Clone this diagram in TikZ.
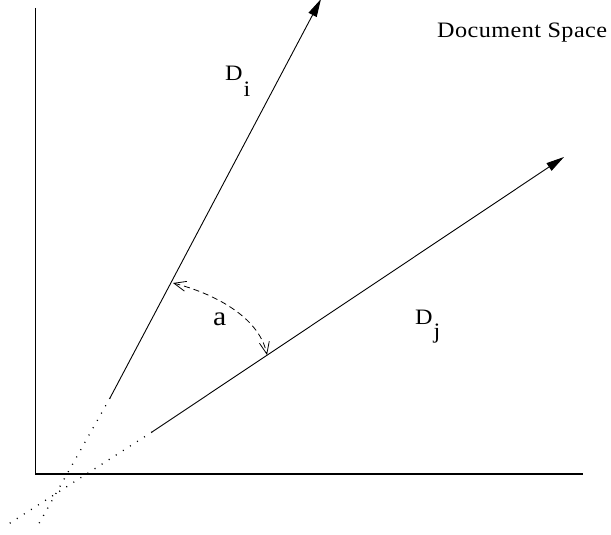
\documentclass[tikz,border=0pt]{standalone}
\usepackage{fontspec}
\setmainfont{Liberation Serif}
\newfontfamily\labfont[LetterSpace=2,FakeStretch=1.1]{Liberation Serif}
\usetikzlibrary{arrows.meta}
\tikzset{
  axis/.style={line width=1.3pt},
  vec/.style={line width=0.9pt},
  vecext/.style={line width=1.3pt, dash pattern=on 1pt off 7.4pt},
  vecarrow/.style={vec, -{Triangle[length=18pt,width=9pt]}},
  barbtip/.tip={Straight Barb[length=12pt,width=10pt,line width=0.8pt]},
  anglearc/.style={line width=0.8pt, dash pattern=on 6pt off 4pt, {barbtip}-{barbtip}},
  lab/.style={inner sep=0pt, anchor=base west, font=\labfont\fontsize{22pt}{25pt}\selectfont},
}
\begin{document}
\begin{tikzpicture}[x=1pt,y=-1pt]
\useasboundingbox (0,0) rectangle (611,535);
% axes
\coordinate (ytop) at (35.5,8);
\coordinate (orig) at (35.5,474);
\coordinate (xend) at (583,474);
\draw[axis] (ytop) -- (orig) -- (xend);
% vector D_i
\coordinate (di0) at (110,398);
\coordinate (di1) at (321,-1);
\coordinate (dif) at (37,527);
\draw[vecarrow] (di0) -- (di1);
\draw[vecext] (di0) -- (dif);
% vector D_j
\coordinate (dj0) at (152,432);
\coordinate (dj1) at (564,157);
\coordinate (djf) at (7,525);
\draw[vecarrow] (dj0) -- (dj1);
\draw[vecext] (dj0) -- (djf);
% angle
\coordinate (ai) at (173,283);
\coordinate (aj) at (267,355);
\draw[anglearc] (ai) .. controls (212,293) and (259,316) .. (aj);
% labels
\node[lab] (ldi) at (225,80.7) {D\raisebox{-16pt}{\kern1pt i}};
\node[lab] (ldj) at (415,324.3) {D\raisebox{-14pt}{\kern1pt j}};
\node[lab, font=\labfont\fontsize{27pt}{30pt}\selectfont] (la) at (213,325.3) {a};
\node[lab] (lds) at (437,37.3) {Document Space};
\end{tikzpicture}
\end{document}
